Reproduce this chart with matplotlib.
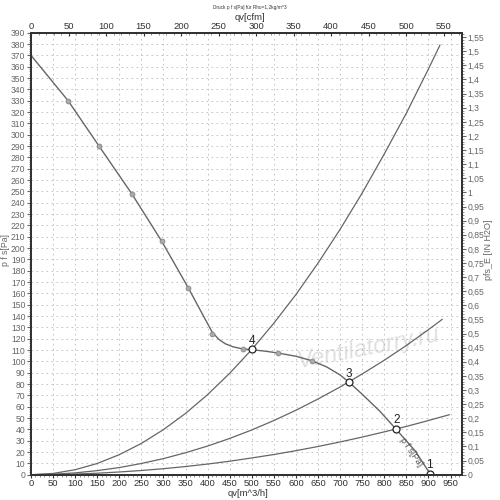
import numpy as np
import matplotlib
matplotlib.use("Agg")
from matplotlib import pyplot as plt
from matplotlib.ticker import MultipleLocator, FuncFormatter

plt.rcParams['font.family'] = ['Liberation Sans', 'DejaVu Sans']

# fan curve p f s [Pa] vs qv [m^3/h]
fan_q = [0, 84, 154, 228, 296, 356, 385, 410, 425, 440, 458, 479, 500, 530, 559, 600, 636, 670, 700, 719, 750, 790, 827, 870, 905]
fan_p = [370, 330, 290, 248, 206, 165, 144, 126, 119.5, 115.5, 112.8, 111, 110.3, 109, 107.4, 104.5, 100.6, 95, 88, 82, 71, 56, 40, 21, 0]
mark_q = [84, 154, 228, 296, 356, 410, 479, 559, 636]
mark_p = [330, 290, 248, 206, 165, 124, 110.7, 107.4, 100.6]

# system curves
sys_q = [0, 50, 100, 150, 200, 250, 300, 350, 400, 450, 500, 550, 600, 650, 700, 750, 800, 850, 900]
sys4_p = [0, 1.1, 4.4, 9.9, 17.7, 27.6, 39.8, 54.1, 70.7, 89.5, 110.5, 133.7, 159, 186.7, 216.5, 248.6, 283, 319, 358]
sys3_p = [0, 0.4, 1.6, 3.6, 6.3, 9.9, 14.2, 19.4, 25.3, 32, 39.5, 47.8, 56.9, 66.8, 77.4, 88.9, 101, 114, 128]
sys2_p = [0, 0.15, 0.6, 1.3, 2.4, 3.7, 5.3, 7.2, 9.4, 11.9, 14.8, 17.8, 21.2, 24.9, 28.9, 33.2, 37.8, 42.6, 47.8]
sys4_end = (926, 379)
sys3_end = (931, 137)
sys2_end = (947, 52.9)

# operating points
op_labels = ["1", "2", "3", "4"]
op_q = [903, 827, 719, 500]
op_p = [1, 40.3, 81.5, 110.5]

XMAX = 976
YMAX = 390
PA_PER_INH2O = 249.089
M3H_PER_CFM = 1.699

tick_col = "#666666"
line_col = "#666666"

fig = plt.figure(figsize=(5, 5), dpi=100)
ax = fig.add_axes([0.062, 0.0506, 0.862, 0.884])

ax.plot(fan_q, fan_p, color=line_col, lw=1.0, zorder=3)
ax.plot(mark_q, mark_p, ls="none", marker="o", ms=3.5, mfc="#aaaaaa", mec="#888888", mew=0.6, zorder=4)
ax.plot(sys_q + [sys4_end[0]], sys4_p + [sys4_end[1]], color=line_col, lw=0.9, zorder=2)
ax.plot(sys_q + [sys3_end[0]], sys3_p + [sys3_end[1]], color=line_col, lw=0.9, zorder=2)
ax.plot(sys_q + [sys2_end[0]], sys2_p + [sys2_end[1]], color=line_col, lw=0.9, zorder=2)

ax.plot(op_q, op_p, ls="none", marker="o", ms=5, mfc="white", mec="#222222", mew=0.9, zorder=5)
for lab, q, p in zip(op_labels, op_q, op_p):
    ax.annotate(lab, (q, p), xytext=(0, 2), textcoords="offset points",
                ha="center", va="bottom", fontsize=8.5, color="#222222", zorder=6)

ax.text(862, 20, "p f s[Pa]", rotation=-55, fontsize=6.5, color="#555555",
        ha="center", va="center", zorder=6)

ax.text(765, 112, "Ventilatorry.ru", rotation=11, fontsize=17, fontstyle="italic",
        color="#e0e0e0", ha="center", va="center", zorder=1)

ax.set_xlim(0, XMAX)
ax.set_ylim(0, YMAX)
ax.xaxis.set_major_locator(MultipleLocator(50))
ax.yaxis.set_major_locator(MultipleLocator(10))
ax.yaxis.set_minor_locator(MultipleLocator(2))
ax.xaxis.set_minor_locator(MultipleLocator(10))
ax.grid(True, which="major", color="#bbbbbb", ls=(0, (2, 4)), lw=0.6)
ax.tick_params(axis="y", which="major", labelsize=6.2, colors=tick_col, length=3, width=0.8, pad=1)
ax.tick_params(axis="x", which="major", labelsize=6.8, colors="#333333", length=2.5, width=0.8, pad=0.5)
ax.tick_params(which="minor", length=1.5, width=0.5, colors=tick_col)
for s in ax.spines.values():
    s.set_linewidth(1.4)
    s.set_color("#333333")

comma = FuncFormatter(lambda v, pos: ("%g" % round(v, 2)).replace(".", ","))

axr = ax.twinx()
axr.set_ylim(0, YMAX / PA_PER_INH2O)
axr.yaxis.set_major_locator(MultipleLocator(0.05))
axr.yaxis.set_minor_locator(MultipleLocator(0.01))
axr.yaxis.set_major_formatter(comma)
axr.tick_params(which="major", labelsize=6.2, colors=tick_col, length=3, width=0.8, pad=1)
axr.tick_params(which="minor", length=1.5, width=0.5, colors=tick_col)

axt = ax.twiny()
axt.set_xlim(0, XMAX / M3H_PER_CFM)
axt.xaxis.set_major_locator(MultipleLocator(50))
axt.xaxis.set_minor_locator(MultipleLocator(10))
axt.tick_params(which="major", labelsize=6.8, colors="#333333", length=2, width=0.8, pad=1, direction="in")
axt.tick_params(which="minor", length=1.5, width=0.5, colors=tick_col, direction="in")
for a in (axr, axt):
    for s in a.spines.values():
        s.set_linewidth(1.4)
        s.set_color("#333333")

# axis titles placed in figure coordinates
fig.text(0.5, 0.99, "Druck p f s[Pa] für Rho=1,2kg/m^3", fontsize=3.4, color="#333333",
         ha="center", va="top")
fig.text(0.5, 0.966, "qv[cfm]", fontsize=6.8, color="#333333", ha="center", va="center")
fig.text(0.495, 0.012, "qv[m^3/h]", fontsize=6.8, color="#333333", ha="center", va="center")
fig.text(0.011, 0.5, "p f s[Pa]", fontsize=6.2, color="#666666", rotation=90,
         ha="center", va="center")
fig.text(0.977, 0.5, "pfs_E [IN H2O]", fontsize=6.5, color="#666666", rotation=90,
         ha="center", va="center")

fig.savefig("out.png", dpi=100)
